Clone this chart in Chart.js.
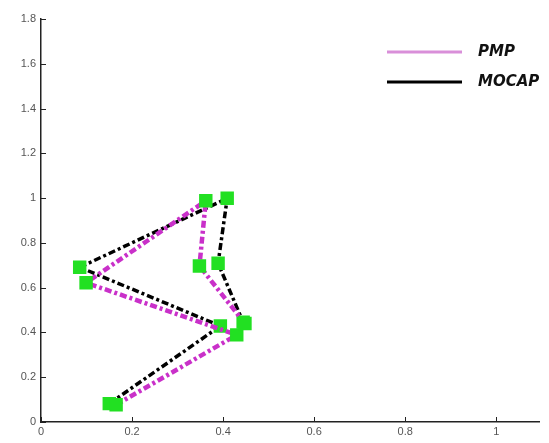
<!DOCTYPE html>
<html>
<head>
<meta charset="utf-8">
<script src="https://cdn.jsdelivr.net/npm/chart.js@4"></script>
<style>
  html, body { margin: 0; padding: 0; background: #fff; overflow: hidden; }
  #wrap { width: 549px; height: 443px; }
</style>
</head>
<body>
<div id="wrap"><canvas id="c" width="549" height="443"></canvas></div>
<script>
// ---- data ----
const seriesNames = ['PMP', 'MOCAP'];
const pmpX   = [0.165, 0.430, 0.099, 0.362, 0.348, 0.448];
const pmpY   = [0.077, 0.389, 0.622, 0.988, 0.697, 0.440];
const mocapX = [0.150, 0.394, 0.085, 0.409, 0.389, 0.444];
const mocapY = [0.082, 0.429, 0.691, 0.999, 0.709, 0.446];
const xTickValues = [0, 0.2, 0.4, 0.6, 0.8, 1];
const xTickLabels = ['0', '0.2', '0.4', '0.6', '0.8', '1'];
const yTickValues = [0, 0.2, 0.4, 0.6, 0.8, 1, 1.2, 1.4, 1.6, 1.8];
const yTickLabels = ['0', '0.2', '0.4', '0.6', '0.8', '1', '1.2', '1.4', '1.6', '1.8'];

const toPts = (xs, ys) => xs.map((x, i) => ({ x: x, y: ys[i] }));

const MAGENTA = '#c930c9';
const GREEN = '#22e022';

const innerTicks = {
  id: 'innerTicks',
  afterDraw(chart) {
    const ctx = chart.ctx;
    const xs = chart.scales.x, ys = chart.scales.y;
    const a = chart.chartArea;
    ctx.save();
    ctx.strokeStyle = '#222';
    ctx.lineWidth = 1;
    ctx.beginPath();
    xTickValues.forEach(v => {
      const px = Math.round(xs.getPixelForValue(v)) + 0.5;
      ctx.moveTo(px, a.bottom); ctx.lineTo(px, a.bottom - 5);
    });
    yTickValues.forEach(v => {
      const py = Math.round(ys.getPixelForValue(v)) + 0.5;
      ctx.moveTo(a.left, py); ctx.lineTo(a.left + 5, py);
    });
    ctx.stroke();
    ctx.restore();
  }
};

const legendPlugin = {
  id: 'insideLegend',
  afterDraw(chart) {
    const ctx = chart.ctx;
    const a = chart.chartArea;
    const x0 = a.left + 346, x1 = a.left + 421, tx = a.left + 437;
    const rows = [
      { y: a.top + 33, color: '#d98fd9', name: seriesNames[0] },
      { y: a.top + 63, color: '#000', name: seriesNames[1] }
    ];
    ctx.save();
    rows.forEach(r => {
      ctx.strokeStyle = r.color;
      ctx.lineWidth = 3;
      ctx.beginPath();
      ctx.moveTo(x0, r.y); ctx.lineTo(x1, r.y);
      ctx.stroke();
      ctx.fillStyle = '#111';
      ctx.font = 'italic bold 15px "DejaVu Sans"';
      ctx.textBaseline = 'middle';
      ctx.textAlign = 'left';
      ctx.fillText(r.name, tx, r.y);
    });
    ctx.restore();
  }
};

new Chart(document.getElementById('c'), {
  type: 'scatter',
  data: {
    datasets: [
      {
        label: seriesNames[0],
        data: toPts(pmpX, pmpY),
        showLine: true,
        borderColor: MAGENTA,
        borderWidth: 4.5,
        borderDash: [7, 3, 3, 3],
        pointStyle: 'rect',
        pointRadius: 9.5,
        pointBackgroundColor: GREEN,
        pointBorderColor: GREEN,
        pointBorderWidth: 0
      },
      {
        label: seriesNames[1],
        data: toPts(mocapX, mocapY),
        showLine: true,
        borderColor: '#000',
        borderWidth: 3.5,
        borderDash: [7, 3, 3, 3],
        pointStyle: 'rect',
        pointRadius: 9.5,
        pointBackgroundColor: GREEN,
        pointBorderColor: GREEN,
        pointBorderWidth: 0
      }
    ]
  },
  options: {
    responsive: false,
    animation: false,
    layout: { padding: { left: 0, right: 0, top: 19, bottom: 0 } },
    plugins: { legend: { display: false }, tooltip: { enabled: false } },
    scales: {
      x: {
        type: 'linear',
        min: 0,
        max: 1.095,
        afterBuildTicks: s => { s.ticks = xTickValues.map(v => ({ value: v })); },
        afterFit: s => { s.height = 21; },
        ticks: {
          callback: (v, i) => xTickLabels[i],
          color: '#555',
          font: { family: 'Liberation Sans', size: 11 },
          padding: 3,
          maxRotation: 0,
          autoSkip: false
        },
        grid: { display: true, drawOnChartArea: false, drawTicks: false, color: 'rgba(0,0,0,0)' },
        border: { display: true, color: '#222', width: 1.5 }
      },
      y: {
        type: 'linear',
        min: 0,
        max: 1.8,
        afterBuildTicks: s => { s.ticks = yTickValues.map(v => ({ value: v })); },
        afterFit: s => { s.width = 41; },
        ticks: {
          callback: (v, i) => yTickLabels[i],
          color: '#555',
          font: { family: 'Liberation Sans', size: 11 },
          padding: 5,
          autoSkip: false
        },
        grid: { display: true, drawOnChartArea: false, drawTicks: false, color: 'rgba(0,0,0,0)' },
        border: { display: true, color: '#222', width: 1.5 }
      }
    }
  },
  plugins: [innerTicks, legendPlugin]
});
</script>
</body>
</html>
